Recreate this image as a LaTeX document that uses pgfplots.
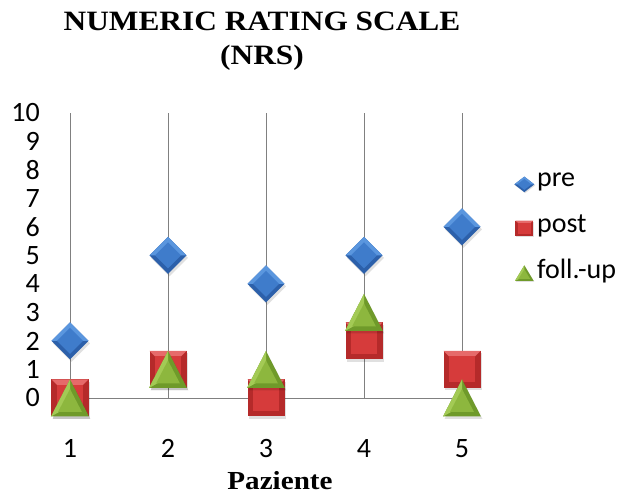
\documentclass[border=0pt]{standalone}
\usepackage{fontspec}
\setmainfont{Liberation Serif}
\newfontfamily\carlito{Carlito}
\usepackage{graphicx}
\usepackage{pgfplots}
\pgfplotsset{compat=1.18}

\definecolor{preLight}{HTML}{5A96DE}
\definecolor{preMid}{HTML}{3F7CCB}
\definecolor{preDark}{HTML}{2C60AA}
\definecolor{postLight}{HTML}{E66A6A}
\definecolor{postMid}{HTML}{D63B3B}
\definecolor{postDark}{HTML}{B52A2A}
\definecolor{fuLight}{HTML}{A3CA55}
\definecolor{fuMid}{HTML}{8DB73E}
\definecolor{fuDark}{HTML}{6F9A2A}
\definecolor{gridgray}{HTML}{808080}

% bevelled diamond with a soft shadow
\pgfdeclareplotmark{nrsdiamond}{%
  \begin{pgfscope}\pgfsetfillcolor{black}\pgfsetfillopacity{0.12}%
  \pgfpathmoveto{\pgfqpoint{1.5pt}{16pt}}\pgfpathlineto{\pgfqpoint{20pt}{-2.5pt}}%
  \pgfpathlineto{\pgfqpoint{1.5pt}{-21pt}}\pgfpathlineto{\pgfqpoint{-17pt}{-2.5pt}}\pgfpathclose
  \pgfusepath{fill}\end{pgfscope}%
  \pgfsetfillcolor{preDark}%
  \pgfpathmoveto{\pgfqpoint{0pt}{18.5pt}}\pgfpathlineto{\pgfqpoint{18.5pt}{0pt}}%
  \pgfpathlineto{\pgfqpoint{0pt}{-18.5pt}}\pgfpathlineto{\pgfqpoint{-18.5pt}{0pt}}\pgfpathclose
  \pgfusepath{fill}%
  \pgfsetfillcolor{preLight}%
  \pgfpathmoveto{\pgfqpoint{-18.5pt}{0pt}}\pgfpathlineto{\pgfqpoint{0pt}{18.5pt}}%
  \pgfpathlineto{\pgfqpoint{18.5pt}{0pt}}\pgfpathclose
  \pgfusepath{fill}%
  \pgfsetfillcolor{preMid}%
  \pgfpathmoveto{\pgfqpoint{0pt}{13pt}}\pgfpathlineto{\pgfqpoint{13pt}{0pt}}%
  \pgfpathlineto{\pgfqpoint{0pt}{-13pt}}\pgfpathlineto{\pgfqpoint{-13pt}{0pt}}\pgfpathclose
  \pgfusepath{fill}%
}
% bevelled square with a soft shadow
\pgfdeclareplotmark{nrssquare}{%
  \begin{pgfscope}\pgfsetfillcolor{black}\pgfsetfillopacity{0.12}%
  \pgfpathrectangle{\pgfqpoint{-17pt}{-21pt}}{\pgfqpoint{37pt}{37pt}}%
  \pgfusepath{fill}\end{pgfscope}%
  \pgfsetfillcolor{postDark}%
  \pgfpathrectangle{\pgfqpoint{-18.5pt}{-18.5pt}}{\pgfqpoint{37pt}{37pt}}%
  \pgfusepath{fill}%
  \pgfsetfillcolor{postLight}%
  \pgfpathmoveto{\pgfqpoint{-18.5pt}{18.5pt}}\pgfpathlineto{\pgfqpoint{18.5pt}{18.5pt}}%
  \pgfpathlineto{\pgfqpoint{13pt}{13pt}}\pgfpathlineto{\pgfqpoint{-13pt}{13pt}}\pgfpathclose
  \pgfusepath{fill}%
  \pgfsetfillcolor{postMid}%
  \pgfpathrectangle{\pgfqpoint{-13pt}{-13pt}}{\pgfqpoint{26pt}{26pt}}%
  \pgfusepath{fill}%
}
% bevelled triangle with a soft shadow
\pgfdeclareplotmark{nrstriangle}{%
  \begin{pgfscope}\pgfsetfillcolor{black}\pgfsetfillopacity{0.12}%
  \pgfpathmoveto{\pgfqpoint{1.5pt}{16pt}}\pgfpathlineto{\pgfqpoint{20.5pt}{-21pt}}%
  \pgfpathlineto{\pgfqpoint{-17.5pt}{-21pt}}\pgfpathclose
  \pgfusepath{fill}\end{pgfscope}%
  \pgfsetfillcolor{fuDark}%
  \pgfpathmoveto{\pgfqpoint{0pt}{18.5pt}}\pgfpathlineto{\pgfqpoint{19pt}{-18.5pt}}%
  \pgfpathlineto{\pgfqpoint{-19pt}{-18.5pt}}\pgfpathclose
  \pgfusepath{fill}%
  \pgfsetfillcolor{fuLight}%
  \pgfpathmoveto{\pgfqpoint{0pt}{18.5pt}}\pgfpathlineto{\pgfqpoint{-19pt}{-18.5pt}}%
  \pgfpathlineto{\pgfqpoint{0pt}{-8pt}}\pgfpathclose
  \pgfusepath{fill}%
  \pgfsetfillcolor{fuMid}%
  \pgfpathmoveto{\pgfqpoint{0pt}{9pt}}\pgfpathlineto{\pgfqpoint{12pt}{-14pt}}%
  \pgfpathlineto{\pgfqpoint{-12pt}{-14pt}}\pgfpathclose
  \pgfusepath{fill}%
}

\begin{document}
\begin{tikzpicture}
\useasboundingbox (0pt,0pt) rectangle (622pt,495pt);
\begin{axis}[
  at={(70pt,97pt)}, anchor=south west,
  scale only axis, width=392pt, height=285pt,
  xmin=1, xmax=5, ymin=0, ymax=10,
  clip=false,
  axis lines*=left,
  axis line style={color=gridgray, line width=0.9pt},
  xmajorgrids,
  grid style={color=gridgray, line width=0.9pt},
  xtick={1,2,3,4,5}, ytick={0,1,...,10},
  major tick length=0pt,
  /pgf/number format/assume math mode=true,
  tick label style={font=\carlito\fontsize{28}{30}\selectfont, text=black},
  xticklabel style={anchor=base, inner sep=0pt, yshift=-60pt},
  yticklabel style={anchor=east, inner sep=0pt, xshift=-30pt},
  legend style={at={(1.133,0.796)}, anchor=north west, draw=none, fill=none,
    font=\carlito\fontsize{28}{30}\selectfont, row sep=20pt, inner sep=0pt,
    /tikz/every even column/.append style={column sep=2pt}},
  legend cell align=left,
]
\addplot[only marks, mark=nrsdiamond,
  legend image code/.code={\begin{scope}[shift={(10pt,-3.5pt)},xscale=0.54,yscale=0.42]\pgfuseplotmark{nrsdiamond}\end{scope}}]
  coordinates {(1,2) (2,5) (3,4) (4,5) (5,6)};
\addlegendentry{pre}
\addplot[only marks, mark=nrssquare,
  legend image code/.code={\begin{scope}[shift={(10pt,-3.5pt)},xscale=0.49,yscale=0.42]\pgfuseplotmark{nrssquare}\end{scope}}]
  coordinates {(1,0) (2,1) (3,0) (4,2) (5,1)};
\addlegendentry{post}
\addplot[only marks, mark=nrstriangle,
  legend image code/.code={\begin{scope}[shift={(10pt,-3.5pt)},xscale=0.49,yscale=0.42]\pgfuseplotmark{nrstriangle}\end{scope}}]
  coordinates {(1,0) (2,1) (3,1) (4,3) (5,0)};
\addlegendentry{foll.-up}
\end{axis}
% chart title and axis title
\node[anchor=base, font=\bfseries\fontsize{28}{30}\selectfont, inner sep=0pt]
  at (262pt,464pt) {\scalebox{1.12}[1]{NUMERIC RATING SCALE}};
\node[anchor=base, font=\bfseries\fontsize{28}{30}\selectfont, inner sep=0pt]
  at (262pt,430pt) {\scalebox{1.12}[1]{(NRS)}};
\node[anchor=base, font=\bfseries\fontsize{26}{28}\selectfont, inner sep=0pt]
  at (280pt,5pt) {\scalebox{1.12}[1]{Paziente}};
\end{tikzpicture}
\end{document}
